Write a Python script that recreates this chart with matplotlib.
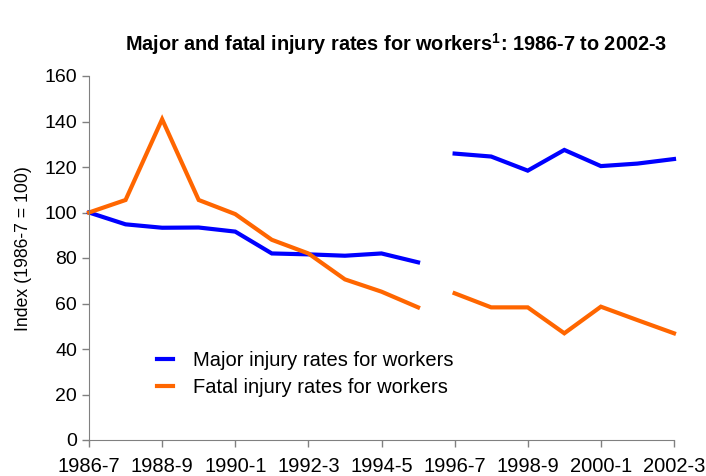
import numpy as np
import matplotlib
matplotlib.use("Agg")
import matplotlib.pyplot as plt

years = ["1986-7", "1987-8", "1988-9", "1989-90", "1990-1", "1991-2", "1992-3",
         "1993-4", "1994-5", "1995-6", "1996-7", "1997-8", "1998-9", "1999-00",
         "2000-1", "2001-2", "2002-3"]
major = [100, 94.8, 93.3, 93.4, 91.6, 82.0, 81.6, 81.0, 82.0, 78.1,
         125.9, 124.6, 118.4, 127.5, 120.4, 121.5, 123.5]
fatal = [100, 105.5, 141.0, 105.5, 99.3, 88.0, 82.0, 70.6, 65.2, 58.3,
         64.5, 58.3, 58.3, 46.9, 58.6, 52.7, 46.9]
break_at = 10  # series discontinuity between 1995-6 and 1996-7

plt.rcParams["font.family"] = ["Liberation Sans", "DejaVu Sans"]
plt.rcParams["mathtext.fontset"] = "custom"
plt.rcParams["mathtext.rm"] = "Liberation Sans"
plt.rcParams["mathtext.bf"] = "Liberation Sans:bold"

fig = plt.figure(figsize=(7.06, 4.76), dpi=100)
ax = fig.add_axes([89 / 706, 36 / 476, 585 / 706, 364 / 476])

x = np.arange(len(years))
for values, color, label in [(major, "#0000ff", "Major injury rates for workers"),
                             (fatal, "#ff6600", "Fatal injury rates for workers")]:
    ax.plot(x[:break_at], values[:break_at], color=color, lw=3, label=label,
            solid_joinstyle="miter", clip_on=False)
    ax.plot(x[break_at:], values[break_at:], color=color, lw=3,
            solid_joinstyle="miter", clip_on=False)

ax.set_xlim(0, len(years) - 1)
ax.set_ylim(0, 160)
ax.set_yticks(range(0, 161, 20))
ax.set_xticks(x[::2])
ax.set_xticklabels(years[::2])
ax.tick_params(labelsize=14, color="#808080", length=5, width=1)
ax.tick_params(axis="x", labelsize=14.5, pad=7)
for side in ["top", "right"]:
    ax.spines[side].set_visible(False)
for side in ["left", "bottom"]:
    ax.spines[side].set_color("#808080")
ax.set_ylabel("Index (1986-7 = 100)", fontsize=12.7)
ax.yaxis.set_label_coords(-0.097, 0.526)

fig.text(396 / 706, 1 - 44 / 476,
         r"Major and fatal injury rates for workers$^{\mathbf{1}}$: 1986-7 to 2002-3",
         ha="center", va="center", fontsize=14.3, fontweight="bold")

ax.legend(loc="upper left", bbox_to_anchor=(0.102, 0.267), frameon=False,
          fontsize=14.5, handlelength=0.8, handletextpad=1.0, labelspacing=0.42,
          borderaxespad=0)

fig.savefig("out.png", dpi=100)
